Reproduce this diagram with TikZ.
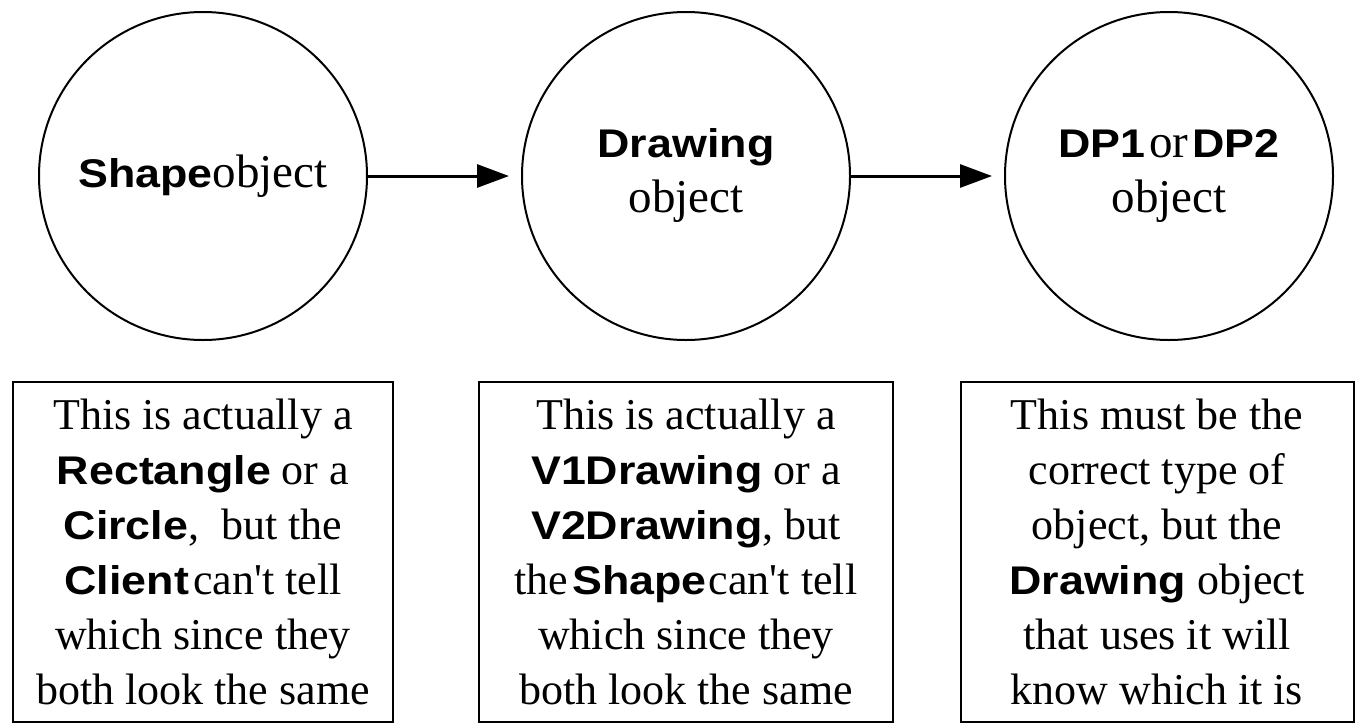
\documentclass[tikz,border=0pt]{standalone}
\usepackage{fontspec}
\setmainfont{Liberation Serif}
\newfontfamily\clsfont[FakeStretch=1.12]{Liberation Sans}
\usetikzlibrary{positioning,arrows.meta}
\newcommand{\cname}[1]{{\clsfont\bfseries\fontsize{20pt}{27.5pt}\selectfont #1}}
\tikzstyle{obj state}=[
        draw,
        line width = 1pt,
        circle,
        minimum size = 164pt,
        inner sep = 0pt,
        align = center,
        font = \fontsize{23.5pt}{27.5pt}\selectfont
    ]
\tikzstyle{note box}=[
        draw,
        line width = 1pt,
        rectangle,
        minimum height = 170pt,
        inner sep = 0pt,
        align = center,
        font = \fontsize{22pt}{27.5pt}\selectfont
    ]
\tikzstyle{obj arrow}=[
        -{Triangle[length=16pt,width=11.5pt]},
        line width = 1.5pt,
        shorten > = 6pt
    ]

\begin{document}
\begin{tikzpicture}[x=0.5pt, y=-0.5pt, node distance={241.5pt}]
        \useasboundingbox (0,0) rectangle (1355,724);
        \node[obj state] (shape) at (203,176) {\cname{Shape}object};
        \node[obj state] (drawing) [right of = shape] {\cname{Drawing}\\object};
        \node[obj state] (dp) [right of = drawing] {\cname{DP1}\kern2pt or\kern2pt\cname{DP2}\\object};

        \node[note box, minimum width = 190pt] (shapenote) [node distance = 188pt, below of = shape]
            {This is actually a\\
             \cname{Rectangle} or a\\
             \cname{Circle},\ \ but the\\
             \cname{Client}\kern2pt can\textquotesingle t tell\\
             which since they\\
             both look the same};
        \node[note box, minimum width = 207pt] (drawnote) [node distance = 188pt, below of = drawing]
            {This is actually a\\
             \cname{V1Drawing} or a\\
             \cname{V2Drawing}, but\\
             the\kern2pt\cname{Shape}\kern1pt can\textquotesingle t tell\\
             which since they\\
             both look the same};
        \node[note box, minimum width = 196.5pt] (dpnote) [node distance = 188pt, below of = dp, xshift = -6pt]
            {This must be the\\
             correct type of\\
             object, but the\\
             \cname{Drawing} object\\
             that uses it will\\
             know which it is};

        \draw[obj arrow] (shape) -- (drawing);
        \draw[obj arrow] (drawing) -- (dp);
    \end{tikzpicture}
\end{document}
